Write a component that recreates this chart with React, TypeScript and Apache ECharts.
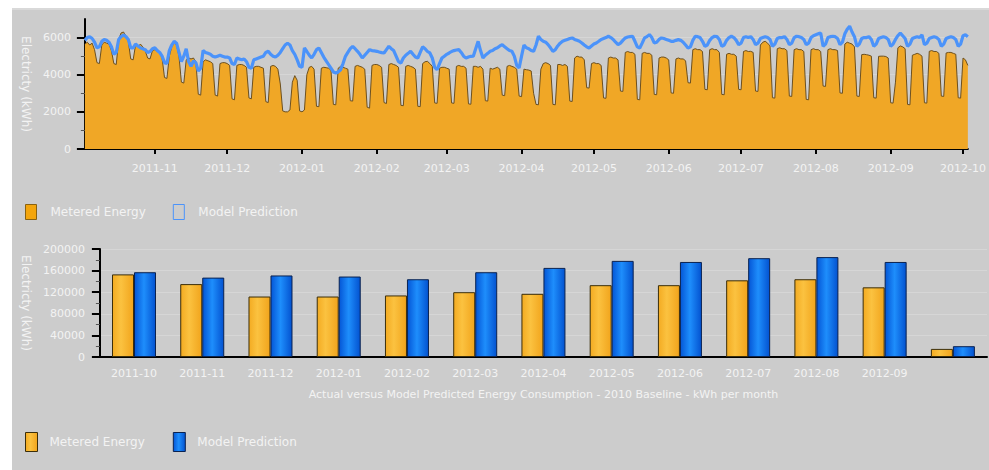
import React, { useEffect, useRef } from 'react';
import * as echarts from 'echarts';

// ---- Data ----
const START_DAY = [2011, 10, 3]; // first daily reading (Mon 2011-10-03)
const MONTH_TICKS = ['2011-11', '2011-12', '2012-01', '2012-02', '2012-03', '2012-04', '2012-05', '2012-06', '2012-07', '2012-08', '2012-09', '2012-10'];

// Daily metered energy (kWh), one row per week Mon..Sun
const METERED_DAILY = [
  5650, 5750, 5600, 5700, 5350, 4650, 4600,
  5600, 5750, 5700, 5650, 5300, 4600, 4550,
  5900, 6250, 6300, 6100, 5800, 4850, 4800,
  5600, 5500, 5650, 5500, 5300, 4900, 4850,
  5300, 5350, 5250, 5200, 4900, 3850, 3800,
  5000, 5500, 5700, 5600, 5000, 3600, 3550,
  4800, 4900, 4850, 4900, 4700, 2950, 2900,
  4700, 4800, 4750, 4700, 4600, 2900, 2850,
  4600, 4650, 4650, 4600, 4500, 2700, 2650,
  4500, 4550, 4550, 4500, 4400, 2750, 2700,
  4400, 4450, 4450, 4400, 4350, 2550, 2500,
  4450, 4500, 4450, 4300, 3500, 2050, 2000,
  2000, 2100, 3600, 3950, 3700, 2050, 2000,
  2100, 4000, 4400, 4450, 4300, 2300, 2280,
  4350, 4400, 4380, 4350, 4250, 2400, 2380,
  4350, 4450, 4400, 4350, 4300, 2600, 2580,
  4450, 4500, 4450, 4400, 4300, 2250, 2200,
  4500, 4550, 4550, 4500, 4400, 2500, 2450,
  4550, 4600, 4550, 4500, 4400, 2350, 2330,
  4450, 4500, 4450, 4400, 4300, 2300, 2280,
  4600, 4700, 4720, 4600, 4450, 2480, 2460,
  4350, 4400, 4400, 4350, 4300, 2480, 2460,
  4450, 4500, 4450, 4450, 4350, 2430, 2410,
  4450, 4450, 4400, 4450, 4300, 2600, 2580,
  4350, 4300, 4350, 4400, 4300, 2900, 2870,
  4450, 4500, 4450, 4400, 4300, 2850, 2820,
  4300, 4270, 4250, 4200, 3000, 2400, 2380,
  4300, 4600, 4650, 4600, 4500, 2400, 2380,
  4550, 4550, 4500, 4550, 4450, 2580, 2560,
  4900, 5000, 4950, 4950, 4800, 3300, 3280,
  4600, 4650, 4600, 4600, 4500, 2750, 2730,
  4900, 4950, 4900, 4900, 4800, 3120, 3100,
  5200, 5250, 5200, 5200, 5100, 2670, 2650,
  5150, 5200, 5150, 5150, 5050, 2940, 2920,
  4900, 4950, 4950, 4900, 4800, 3020, 3000,
  4850, 4900, 4850, 4850, 4750, 3570, 3550,
  5350, 5400, 5350, 5350, 5250, 3210, 3190,
  5350, 5400, 5350, 5350, 5200, 2940, 2920,
  5100, 5150, 5100, 5100, 5000, 3210, 3190,
  5250, 5300, 5250, 5260, 5200, 3120, 3100,
  5600, 5750, 5800, 5700, 5550, 2760, 2740,
  5400, 5450, 5400, 5400, 5300, 2850, 2830,
  5350, 5400, 5350, 5350, 5250, 2670, 2650,
  5350, 5400, 5350, 5350, 5250, 3390, 3370,
  5350, 5400, 5350, 5350, 5300, 3020, 3000,
  5650, 5750, 5700, 5650, 5500, 2850, 2830,
  5080, 5100, 5080, 5050, 5000, 2760, 2740,
  4990, 5000, 5000, 4980, 4900, 2490, 2470,
  3600, 5450, 5550, 5500, 5400, 2400, 2380,
  5050, 5100, 5150, 5100, 5000, 2490, 2470,
  5260, 5300, 5250, 5250, 5150, 2850, 2830,
  5170, 5200, 5200, 5150, 5100, 2760, 2740,
  4900, 4800, 4500,
];

// Daily model prediction (kWh), one row per week Mon..Sun
const PREDICTED_DAILY = [
  5850, 6000, 6050, 5950, 5750, 5450, 5500,
  5800, 5900, 5850, 5750, 5500, 5100, 5200,
  5900, 6050, 6150, 6050, 5900, 5450, 5450,
  5650, 5550, 5450, 5400, 5350, 5200, 5250,
  5400, 5450, 5300, 5200, 5000, 4650, 4600,
  5300, 5600, 5800, 5700, 5200, 4700, 5000,
  5400, 4700, 4450, 4750, 4650, 4200, 4350,
  5300, 5200, 5150, 5100, 5000, 4950, 5000,
  5050, 5000, 4950, 4950, 4900, 4600, 4550,
  4900, 4850, 4800, 4850, 4700, 4400, 4350,
  4800, 4850, 4900, 4950, 5000, 5200, 5260,
  5100, 5000, 4950, 5050, 5200, 5400, 5600,
  5700, 5600, 5300, 5100, 4800, 4450, 4400,
  5440, 5250, 5050, 4900, 5100, 5350, 5440,
  5200, 4950, 4750, 4550, 4350, 4150, 4090,
  4150, 4270, 4600, 4990, 5200, 5400, 5530,
  5400, 5260, 5100, 4900, 5050, 5200, 5350,
  5300, 5280, 5260, 5220, 5190, 5170, 5350,
  5530, 5400, 5300, 5000, 4700, 4630, 4900,
  5050, 5150, 5260, 5100, 4950, 4900, 5200,
  5500, 5400, 5250, 5170, 4900, 4400, 4270,
  4600, 4900, 5000, 5100, 5170, 5250, 5300,
  5330, 5350, 5200, 5000, 4900, 4950, 4990,
  5000, 5400, 5800, 5300, 4900, 5050, 5150,
  5260, 5300, 5400, 5450, 5550, 5620, 5500,
  5400, 5300, 5260, 5000, 4500, 4360, 5000,
  5600, 5450, 5400, 5300, 5260, 5600, 6070,
  5900, 5800, 5750, 5620, 5450, 5260, 5350,
  5550, 5700, 5800, 5850, 5900, 5950, 5980,
  5900, 5850, 5800, 5710, 5600, 5500, 5440,
  5550, 5650, 5710, 5800, 5900, 5950, 6000,
  6070, 6000, 5900, 5750, 5620, 5700, 5850,
  5980, 6030, 6050, 6070, 5800, 5500, 5440,
  5700, 5980, 6050, 6160, 6000, 5710, 5750,
  5900, 5980, 5950, 5900, 5850, 5800, 5800,
  5850, 5890, 5850, 5750, 5600, 5440, 5500,
  5850, 6070, 6050, 6000, 5800, 5530, 5600,
  5850, 6000, 6070, 6050, 5900, 5530, 5600,
  5850, 6000, 6070, 6000, 5850, 5620, 5700,
  6000, 6050, 6000, 6050, 5900, 5620, 5700,
  5950, 6000, 6050, 6000, 5900, 5530, 5650,
  5950, 6000, 6000, 6050, 5900, 5620, 5700,
  6000, 6070, 6050, 6000, 5900, 5620, 5700,
  6000, 6100, 6150, 6200, 6250, 5530, 5650,
  6000, 6050, 6070, 6050, 5950, 5620, 5750,
  6200, 6450, 6610, 6300, 6050, 5530, 5650,
  5950, 6000, 6000, 6050, 5900, 5530, 5650,
  5950, 6000, 6050, 6000, 5900, 5530, 5650,
  5900, 6100, 6250, 6100, 5950, 5530, 5650,
  5950, 6000, 6050, 6000, 6150, 5620, 5700,
  5950, 6000, 6050, 6000, 5900, 5530, 5650,
  5950, 6000, 6050, 6000, 5900, 5530, 5650,
  6100, 6150, 6050,
];

const MONTHS = ['2011-10', '2011-11', '2011-12', '2012-01', '2012-02', '2012-03', '2012-04', '2012-05', '2012-06', '2012-07', '2012-08', '2012-09', ''];
const METERED_MONTHLY = [153000, 135000, 112000, 112000, 114000, 120000, 117000, 133000, 133000, 142000, 144000, 129000, 15000];
const PREDICTED_MONTHLY = [157000, 147000, 151000, 149000, 144000, 157000, 165000, 178000, 176000, 183000, 185000, 176000, 20000];

const TOP_Y_TICKS = [0, 2000, 4000, 6000];

const FONT = "'DejaVu Sans', Verdana, sans-serif";
const TEXT = '#f3f3f3';
const DAY = 86400000;

export default function App() {
  const ref = useRef<HTMLDivElement>(null);

  useEffect(() => {
    if (!ref.current) return;
    const chart = echarts.init(ref.current, null, { renderer: 'svg' });

    const t0 = Date.UTC(START_DAY[0], START_DAY[1] - 1, START_DAY[2]);
    const metered = METERED_DAILY.map((v, i) => [t0 + i * DAY, v]);
    const predicted = PREDICTED_DAILY.map((v, i) => [t0 + i * DAY, v]);
    const tEnd = t0 + (METERED_DAILY.length - 1) * DAY;
    const monthTs = MONTH_TICKS.map((m) => Date.UTC(+m.slice(0, 4), +m.slice(5, 7) - 1, 1));
    const fmtMonth = (v: number) => {
      const d = new Date(v);
      const mm = d.getUTCMonth() + 1;
      return d.getUTCFullYear() + '-' + (mm < 10 ? '0' + mm : '' + mm);
    };

    const orangeGrad = new echarts.graphic.LinearGradient(0, 0, 1, 0, [
      { offset: 0, color: '#f3ab22' },
      { offset: 0.4, color: '#fbc240' },
      { offset: 1, color: '#f1a41c' },
    ]);
    const blueGrad = new echarts.graphic.LinearGradient(0, 0, 1, 0, [
      { offset: 0, color: '#0456d6' },
      { offset: 0.45, color: '#1e8efc' },
      { offset: 1, color: '#0352d0' },
    ]);

    const blackLine = { lineStyle: { color: '#000', width: 2 } };

    chart.setOption({
      animation: false,
      backgroundColor: '#cccccc',
      textStyle: { fontFamily: FONT },
      graphic: [
        { type: 'rect', left: 0, top: 0, shape: { width: 977, height: 2 }, style: { fill: '#d9d9d9' }, silent: true },
      ],
      legend: [
        {
          left: 13, top: 196, padding: 0, itemWidth: 11, itemHeight: 15, itemGap: 27,
          selectedMode: false,
          textStyle: { color: TEXT, fontSize: 12, fontFamily: FONT, padding: [0, 0, 0, 9] },
          data: [
            { name: 'Metered Energy', icon: 'rect', itemStyle: { color: '#f3a50c', borderColor: '#8a6210', borderWidth: 1 } },
            { name: 'Model Prediction', icon: 'rect', itemStyle: { color: '#cccccc', borderColor: '#4b93fa', borderWidth: 1 } },
          ],
        },
        {
          left: 13, top: 424, padding: 0, itemWidth: 12, itemHeight: 19, itemGap: 28,
          selectedMode: false,
          textStyle: { color: TEXT, fontSize: 12, fontFamily: FONT, padding: [0, 0, 0, 7] },
          data: [
            { name: 'Metered Energy', icon: 'rect', itemStyle: { color: orangeGrad, borderColor: '#3b2e0a', borderWidth: 1 } },
            { name: 'Model Prediction', icon: 'rect', itemStyle: { color: blueGrad, borderColor: '#0a2250', borderWidth: 1 } },
          ],
        },
      ],
      grid: [
        { left: 72, top: 11, width: 888, height: 130 },
        { left: 86, top: 241, width: 889, height: 108 },
      ],
      xAxis: [
        {
          type: 'value', gridIndex: 0, min: t0, max: tEnd,
          axisLine: blackLine,
          axisTick: { show: true, customValues: monthTs, length: 5, lineStyle: { color: '#000', width: 2 } },
          axisLabel: { customValues: monthTs, formatter: fmtMonth, color: TEXT, fontSize: 11, margin: 14, fontFamily: FONT },
          splitLine: { show: false },
        },
        {
          type: 'category', gridIndex: 1, data: MONTHS,
          axisLine: blackLine,
          axisTick: { show: false },
          axisLabel: { interval: 0, color: TEXT, fontSize: 11, margin: 11, fontFamily: FONT },
          name: 'Actual versus Model Predicted Energy Consumption - 2010 Baseline - kWh per month',
          nameLocation: 'middle', nameGap: 32,
          nameTextStyle: { color: TEXT, fontSize: 11, fontFamily: FONT },
        },
      ],
      yAxis: [
        {
          type: 'value', gridIndex: 0, min: 0, max: 7000, interval: 2000,
          name: 'Electricty (kWh)', nameLocation: 'middle', nameRotate: -90, nameGap: 51,
          nameTextStyle: { color: TEXT, fontSize: 12, fontFamily: FONT },
          axisLine: { show: true, ...blackLine },
          axisTick: { show: true, customValues: TOP_Y_TICKS, length: 8, lineStyle: { color: '#000', width: 2 } },
          minorTick: { show: true, splitNumber: 2, length: 4, lineStyle: { color: '#555', width: 1 } },
          axisLabel: { customValues: TOP_Y_TICKS, formatter: (v: number) => String(v), color: TEXT, fontSize: 11, margin: 14, fontFamily: FONT },
          splitLine: { show: true, lineStyle: { color: '#d6d6d6', width: 1 } },
        },
        {
          type: 'value', gridIndex: 1, min: 0, max: 200000, interval: 40000,
          name: 'Electricty (kWh)', nameLocation: 'middle', nameRotate: -90, nameGap: 65,
          nameTextStyle: { color: TEXT, fontSize: 12, fontFamily: FONT },
          axisLine: { show: true, ...blackLine },
          axisTick: { show: true, length: 8, lineStyle: { color: '#000', width: 2 } },
          minorTick: { show: true, splitNumber: 2, length: 4, lineStyle: { color: '#555', width: 1 } },
          axisLabel: { formatter: (v: number) => String(v), color: TEXT, fontSize: 11, margin: 15, fontFamily: FONT },
          splitLine: { show: true, lineStyle: { color: '#d6d6d6', width: 1 } },
        },
      ],
      series: [
        {
          type: 'line', name: 'Metered Energy', xAxisIndex: 0, yAxisIndex: 0,
          data: metered, symbol: 'none', showSymbol: false,
          lineStyle: { color: '#6c5020', width: 1 },
          itemStyle: { color: '#f0a726' },
          areaStyle: { color: '#f0a726', opacity: 1 },
          z: 2,
        },
        {
          type: 'line', name: 'Model Prediction', xAxisIndex: 0, yAxisIndex: 0,
          data: predicted, symbol: 'none', showSymbol: false,
          lineStyle: { color: '#4b93fa', width: 3.2 },
          itemStyle: { color: '#4b93fa' },
          z: 3,
        },
        {
          type: 'bar', name: 'Metered Energy', xAxisIndex: 1, yAxisIndex: 1,
          data: METERED_MONTHLY, barWidth: 22, barGap: '0%',
          itemStyle: { color: orangeGrad, borderColor: '#3b2e0a', borderWidth: 1 },
        },
        {
          type: 'bar', name: 'Model Prediction', xAxisIndex: 1, yAxisIndex: 1,
          data: PREDICTED_MONTHLY, barWidth: 22, barGap: '0%',
          itemStyle: { color: blueGrad, borderColor: '#0a2250', borderWidth: 1 },
        },
      ],
    });

    return () => chart.dispose();
  }, []);

  return (
    <div
      ref={ref}
      style={{
        position: 'absolute', left: 12, top: 8, width: 977, height: 462,
        background: '#cccccc',
      }}
    />
  );
}
